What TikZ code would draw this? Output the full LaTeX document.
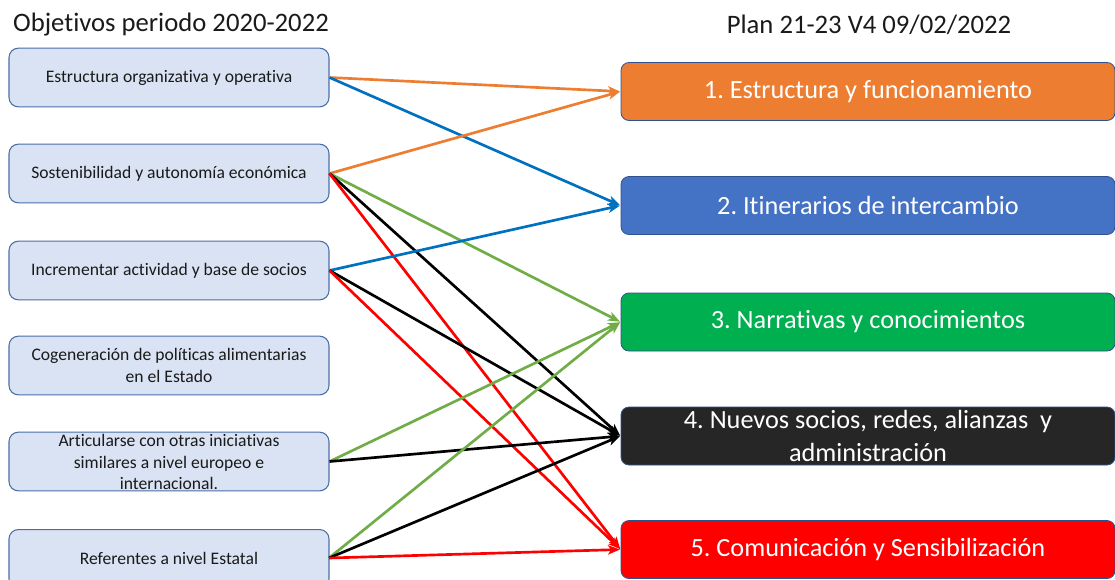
\documentclass[tikz,border=0pt]{standalone}
\usepackage{fontspec}
\setmainfont{Carlito}[Ligatures={NoCommon}]
\usetikzlibrary{arrows.meta}
\definecolor{lfill}{HTML}{DAE3F3}
\definecolor{lborder}{HTML}{4A6FA8}
\definecolor{rborder}{HTML}{2F528F}
\definecolor{corange}{HTML}{ED7D31}
\definecolor{cblue}{HTML}{4472C4}
\definecolor{lblue}{HTML}{0070C0}
\definecolor{cgreen}{HTML}{00B050}
\definecolor{lgreen}{HTML}{70AD47}
\definecolor{cblack}{HTML}{262626}
\definecolor{cred}{HTML}{FF0000}
\definecolor{ctext}{HTML}{1A1A1A}
\frenchspacing
\tikzset{
  leftbox/.style={draw=lborder, line width=0.8pt, fill=lfill, rounded corners=7pt,
    minimum width=240pt, minimum height=44pt, inner sep=0pt},
  lefttext/.style={align=center, inner sep=0pt, text=ctext,
    font=\fontsize{13.2pt}{16.3pt}\selectfont},
  rightbox/.style={draw=rborder, line width=0.6pt, rounded corners=6pt,
    minimum width=370.5pt, minimum height=43.5pt, inner sep=1pt, align=center,
    text=white, font=\fontsize{19.7pt}{24.5pt}\selectfont},
  conn/.style={line width=2pt, -{Stealth[length=9pt,width=7pt,inset=2.5pt]}, shorten >=0.5pt},
  title/.style={font=\fontsize{20pt}{24pt}\selectfont, text=ctext, inner sep=0pt}
}
\begin{document}
\begin{tikzpicture}[x=0.75pt,y=-0.75pt]
\useasboundingbox (0,0) rectangle (1115,579);
\clip (0,0) rectangle (1115,579);
% titles
\node[title] (t1) at (171,25) {Objetivos periodo 2020-2022};
\node[title] (t2) at (869,25) {Plan 21-23 V4 09/02/2022};
% left boxes
\node[leftbox] (L1) at (169,77.5) {};
\node[lefttext] (L1t) at (L1) {Estructura organizativa y operativa};
\node[leftbox] (L2) at (169,173.5) {};
\node[lefttext] (L2t) at (L2) {Sostenibilidad y autonomía económica};
\node[leftbox] (L3) at (169,270.5) {};
\node[lefttext] (L3t) at (L3) {Incrementar actividad y base de socios};
\node[leftbox] (L4) at (169,365.5) {};
\node[lefttext] (L4t) at (L4) {Cogeneración de políticas alimentarias\\en el Estado};
\node[leftbox] (L5) at (169,461.5) {};
\node[lefttext] (L5t) at (169,462) {Articularse con otras iniciativas\\similares a nivel europeo e\\internacional.};
\node[leftbox, anchor=north] (L6) at (169,529) {};
\node[lefttext] (L6t) at (169,558) {Referentes a nivel Estatal};
% right boxes
\node[rightbox, fill=corange] (R1) at (868,91.5) {1. Estructura y funcionamiento};
\node[rightbox, fill=cblue] (R2) at (868,205.5) {2. Itinerarios de intercambio};
\node[rightbox, fill=cgreen] (R3) at (868,322) {3. Narrativas y conocimientos};
\node[rightbox, fill=cblack] (R4) at (868,436) {4. Nuevos socios, redes, alianzas\ \ y\\administración};
\node[rightbox, fill=cred] (R5) at (868,549.5) {5. Comunicación y Sensibilización};
% anchor points
\coordinate (L6e) at (329,558);
% connectors
\draw[conn, corange] (L1.east) -- (R1.west);
\draw[conn, lblue] (L1.east) -- (R2.west);
\draw[conn, corange] (L2.east) -- (R1.west);
\draw[conn, lgreen] (L2.east) -- (R3.west);
\draw[conn, black] (L2.east) -- (R4.west);
\draw[conn, cred] (L2.east) -- (R5.west);
\draw[conn, lblue] (L3.east) -- (R2.west);
\draw[conn, black] (L3.east) -- (R4.west);
\draw[conn, cred] (L3.east) -- (R5.west);
\draw[conn, lgreen] (L5.east) -- (R3.west);
\draw[conn, black] (L5.east) -- (R4.west);
\draw[conn, lgreen] (L6e) -- (R3.west);
\draw[conn, black] (L6e) -- (R4.west);
\draw[conn, cred] (L6e) -- (R5.west);
\end{tikzpicture}
\end{document}
